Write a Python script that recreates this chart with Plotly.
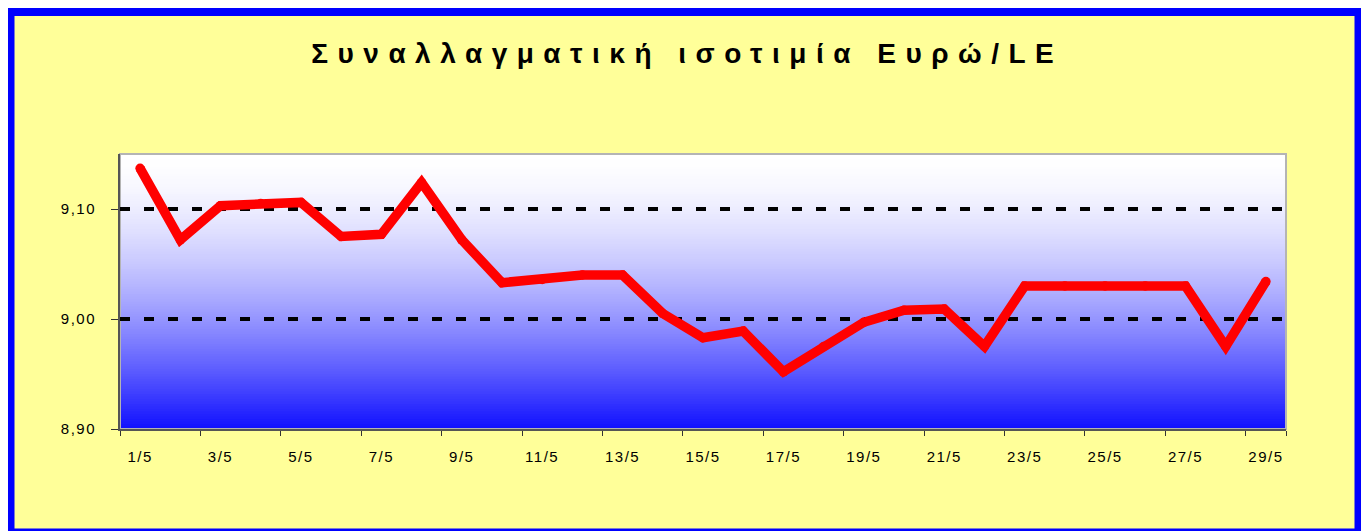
import plotly.graph_objects as go

# ---- data ----
dates = ["1/5", "2/5", "3/5", "4/5", "5/5", "6/5", "7/5", "8/5", "9/5", "10/5",
         "11/5", "12/5", "13/5", "14/5", "15/5", "16/5", "17/5", "18/5", "19/5", "20/5",
         "21/5", "22/5", "23/5", "24/5", "25/5", "26/5", "27/5", "28/5", "29/5"]
rates = [9.137, 9.072, 9.103, 9.105, 9.106, 9.075, 9.077, 9.124, 9.072, 9.033,
         9.036, 9.040, 9.040, 9.005, 8.983, 8.989, 8.952, 8.975, 8.997, 9.008,
         9.009, 8.975, 9.030, 9.030, 9.030, 9.030, 9.030, 8.975, 9.034]
y_ticks = [8.90, 9.00, 9.10]
y_ticktext = ["8,90", "9,00", "9,10"]
title_text = "Συναλλαγματική ισοτιμία Ευρώ/LE"

# ---- layout geometry (screen pixels; page body has an 8px margin) ----
OFF = 8
SW, SH = 1369, 531
W, H = SW - OFF, SH - OFF
PL, PR, PT, PB = 120, 1286, 154, 429          # plot area on screen
ML, MT = PL - OFF, PT - OFF
MR, MB = SW - PR, SH - PB
PW, PH = PR - PL, PB - PT
FONT = "Arial, 'Liberation Sans', sans-serif"
TITLE_LS = 9.5


def px(x):
    return (x - PL) / PW


def py(y):
    return (PB - y) / PH


def ls(t, s):
    return f'<span style="letter-spacing:{s}px">{t}</span>'


shapes = []
# outer blue frame with pale-yellow fill
shapes.append(dict(type="rect", xref="paper", yref="paper",
                   x0=px(9), x1=px(1360), y0=py(534), y1=py(10.5),
                   line=dict(color="#0000ff", width=11), fillcolor="#ffff99",
                   layer="below"))
# vertical gradient inside plot area (white top -> blue bottom)
N = 110
for i in range(N):
    f = (i + 0.5) / N  # fraction from top
    c = int(round(255 - 240 * f ** 1.6))
    shapes.append(dict(type="rect", xref="paper", yref="paper",
                       x0=0, x1=1, y0=0, y1=1 - i / N,
                       line=dict(width=0), fillcolor=f"rgb({c},{c},255)",
                       layer="below"))
# light grey frame around plot area
shapes.append(dict(type="rect", xref="paper", yref="paper", x0=0, x1=1, y0=0, y1=1,
                   line=dict(color="#b4b4b4", width=2), fillcolor="rgba(0,0,0,0)",
                   layer="below"))

fig = go.Figure()
fig.add_trace(go.Scatter(x=dates, y=rates, mode="lines+markers",
                         line=dict(color="#ff0000", width=9.5),
                         marker=dict(color="#ff0000", size=9.5, line=dict(width=0)),
                         hoverinfo="skip", showlegend=False))

fig.update_layout(
    width=W, height=H,
    margin=dict(l=ML, r=MR, t=MT, b=MB, pad=0),
    paper_bgcolor="#ffffff",
    plot_bgcolor="rgba(0,0,0,0)",
    shapes=shapes,
    showlegend=False,
    font=dict(family=FONT, color="#000000"),
    title=dict(text="<b>" + ls(title_text, TITLE_LS) + "</b>",
               x=(682.5 + TITLE_LS / 2 - OFF) / W, xanchor="center", xref="container",
               y=1 - (53 - OFF) / H, yanchor="middle", yref="container",
               font=dict(size=28, family=FONT, color="#000000")),
    xaxis=dict(type="category", tickmode="array",
               tickvals=dates[::2], ticktext=[ls(d, 1.5) for d in dates[::2]],
               tickson="boundaries", ticks="outside", ticklen=5, tickwidth=1,
               tickcolor="#333333", showgrid=False, showline=True, tickangle=0,
               linecolor="#555555", linewidth=2, zeroline=False,
               range=[-0.5, len(dates) - 0.5],
               tickfont=dict(size=15, family=FONT), ticklabelstandoff=13),
    yaxis=dict(range=[8.90, 9.15], tickmode="array", tickvals=y_ticks,
               ticktext=[ls(t, 1.5) for t in y_ticktext],
               ticks="outside", ticklen=7, tickwidth=1, tickcolor="#333333",
               showgrid=True, gridcolor="#000000", gridwidth=3.5,
               griddash="10px,14px", showline=True, linecolor="#555555",
               linewidth=2, zeroline=False,
               tickfont=dict(size=15, family=FONT), ticklabelstandoff=12),
)

fig.write_html("out.html")
